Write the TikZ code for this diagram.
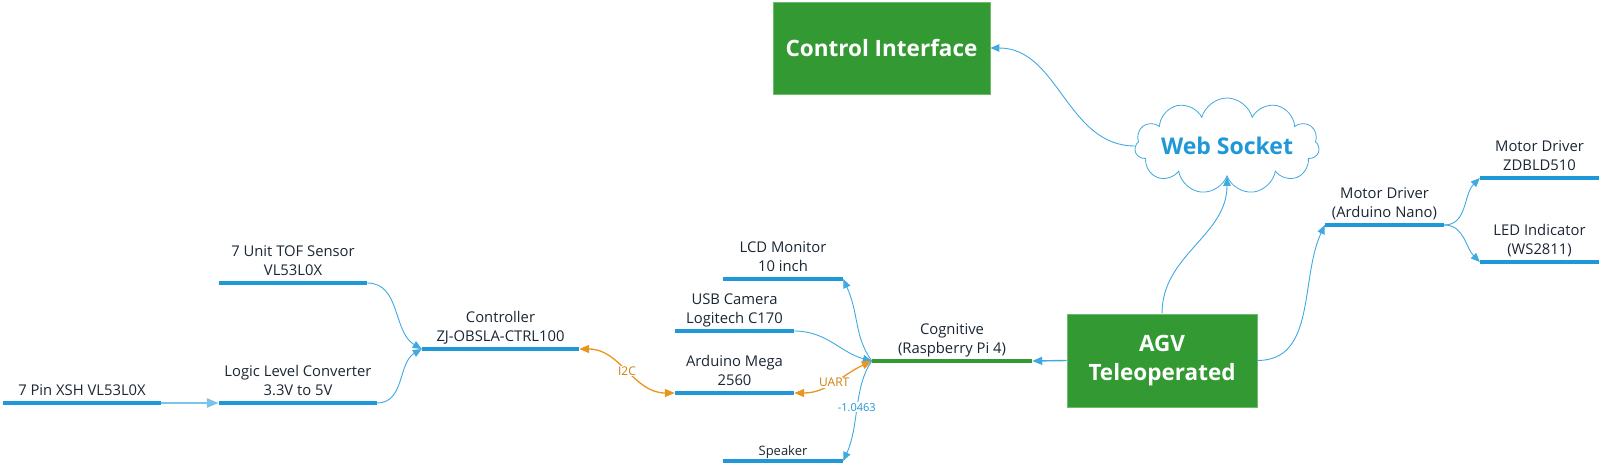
\documentclass[tikz,border=0pt]{standalone}
\usepackage{fontspec}
\setmainfont{Open Sans}
\usetikzlibrary{arrows.meta,shapes.symbols}
\definecolor{vblue}{HTML}{1E98D7}
\definecolor{lblue}{HTML}{3FA9E0}
\definecolor{pblue}{HTML}{7CC3EA}
\definecolor{vgreen}{HTML}{339933}
\definecolor{gedge}{HTML}{6DBB6D}
\definecolor{vorange}{HTML}{E8961E}
\definecolor{torange}{HTML}{D17F12}
\definecolor{txt}{HTML}{1A2633}
\tikzset{
  lbl/.style={anchor=south, inner xsep=0pt, inner ysep=7pt, text depth=0pt, align=center,
              font=\fontsize{14.8}{19}\selectfont, text=txt},
  barline/.style={line width=4pt, draw=vblue},
  greenbar/.style={line width=4pt, draw=vgreen},
  conn/.style={draw=lblue, line width=0.9pt, -{Triangle[length=9pt,width=7.5pt]}, fill=none},
  pconn/.style={draw=pblue, line width=2.5pt, -{Triangle[length=12pt,width=9pt]}},
  aconn/.style={draw=lblue, line width=1.4pt, -{Triangle[length=10pt,width=8pt]}},
  oconn/.style={draw=vorange, line width=1.3pt, {Triangle[length=10pt,width=8pt]}-{Triangle[length=10pt,width=8pt]}},
  olbl/.style={fill=white, inner sep=1pt, text=torange, font=\fontsize{12}{14}\selectfont},
  blbl/.style={fill=white, inner sep=1pt, text=vblue, font=\fontsize{11}{13}\selectfont},
  gbox/.style={fill=vgreen, draw=gedge, line width=0.8pt, text=white, align=center,
               font=\bfseries\fontsize{22.5}{29}\selectfont},
}
\begin{document}
\begin{tikzpicture}[x=1pt,y=1pt]
\useasboundingbox (0,0) rectangle (1605,466);
% boxes
\node[gbox, minimum width=217pt, minimum height=92pt] (ci) at (881.5,418) {Control Interface};
\node[gbox, minimum width=190pt, minimum height=93pt] (agv) at (1162,105.5) {AGV\\Teleoperated};
\node[cloud, cloud puffs=11, cloud ignores aspect, draw=lblue, line width=0.8pt, fill=white,
      minimum width=182pt, minimum height=96pt, inner sep=0pt, text=vblue,
      font=\bfseries\fontsize{23}{27}\selectfont] (cloud) at (1227,320) {Web Socket};
% bars
\node[lbl, minimum width=158pt] (xsh) at (82,63) {7 Pin XSH VL53L0X};
\node[lbl, minimum width=148pt] (tof) at (293,183) {7 Unit TOF Sensor\\VL53L0X};
\node[lbl, minimum width=158pt] (llc) at (298,63) {Logic Level Converter\\3.3V to 5V};
\node[lbl, minimum width=157pt] (ctrl) at (500.5,117) {Controller\\ZJ-OBSLA-CTRL100};
\node[lbl, minimum width=120pt] (lcd) at (783,187) {LCD Monitor\\10 inch};
\node[lbl, minimum width=119pt] (usb) at (734.5,135) {USB Camera\\Logitech C170};
\node[lbl, minimum width=119pt] (mega) at (734.5,73) {Arduino Mega\\2560};
\node[lbl, minimum width=120pt, inner ysep=5pt, font=\fontsize{13}{16}\selectfont] (spk) at (783,5) {Speaker};
\node[lbl, minimum width=160pt] (cog) at (952,105) {Cognitive\\(Raspberry Pi 4)};
\node[lbl, minimum width=119pt] (nano) at (1384.5,241) {Motor Driver\\(Arduino Nano)};
\node[lbl, minimum width=119pt] (zdb) at (1539.5,288) {Motor Driver\\ZDBLD510};
\node[lbl, minimum width=119pt] (led) at (1539.5,204) {LED Indicator\\(WS2811)};
\foreach \n in {xsh,tof,llc,ctrl,lcd,usb,mega,spk,nano,zdb,led}
  \draw[barline] (\n.south west) -- (\n.south east);
\draw[greenbar] (cog.south west) -- (cog.south east);
% connectors
\draw[pconn] (xsh.south east) -- (llc.south west);
\draw[conn] (tof.south east) to[out=0,in=150] (ctrl.south west);
\draw[conn] (llc.south east) to[out=0,in=210] (ctrl.south west);
\draw[oconn] (ctrl.south east) to[out=0,in=180] node[olbl]{I2C} (mega.south west);
\draw[conn] (cog.south west) .. controls +(-18,25) and +(16,-35) .. (lcd.south east);
\draw[conn] (usb.south east) to[out=0,in=165] (cog.south west);
\draw[oconn] (mega.south east) to[out=0,in=205] node[olbl]{UART} (cog.south west);
\draw[conn] (cog.south west) .. controls +(-18,-25) and +(16,35) .. node[blbl]{-1.0463} (spk.south east);
\draw[aconn] (agv.west) -- (cog.south east);
\draw[conn] (agv.north) to[out=90,in=-90] (cloud.south);
\draw[conn] (cloud.west) to[out=180,in=0] (ci.east);
\draw[conn] (agv.east) to[out=0,in=245] (nano.south west);
\draw[conn] (nano.south east) to[out=0,in=225] (zdb.south west);
\draw[conn] (nano.south east) to[out=0,in=135] (led.south west);
\end{tikzpicture}
\end{document}
